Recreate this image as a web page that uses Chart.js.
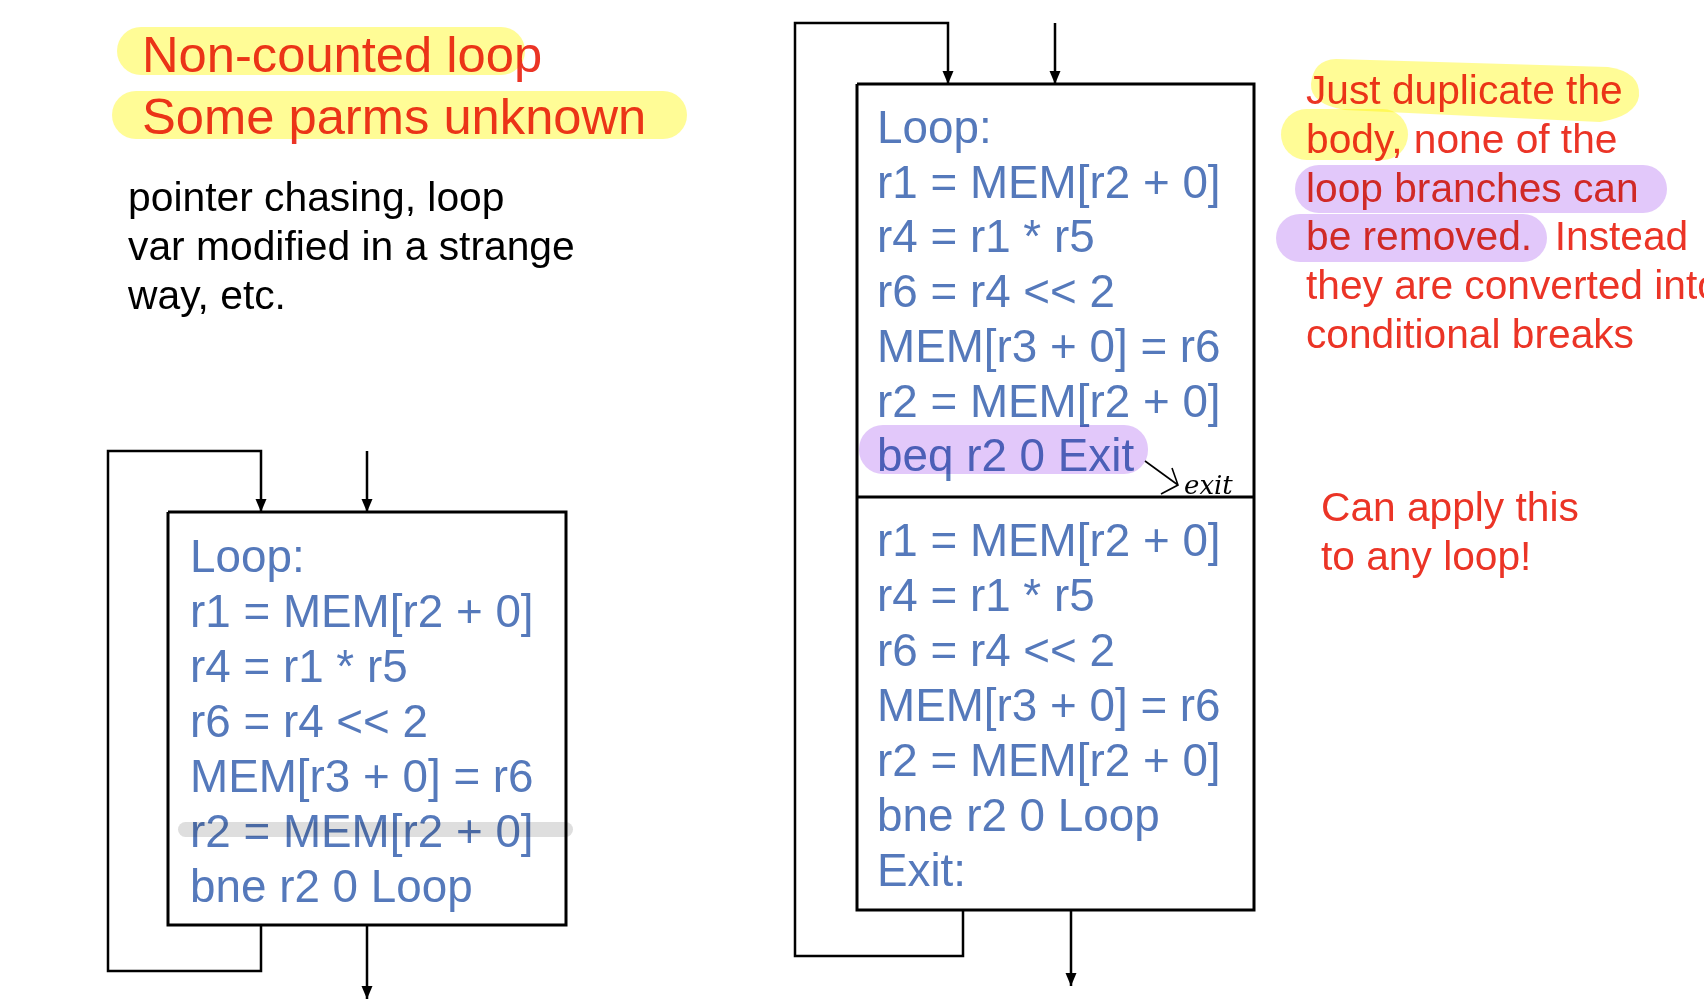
<!DOCTYPE html>
<html>
<head>
<meta charset="utf-8">
<title>Non-counted loop</title>
<script src="https://cdn.jsdelivr.net/npm/chart.js@4/dist/chart.umd.min.js"></script>
<style>
    html, body { margin: 0; padding: 0; background: #fff; }
    #slide { display: block; }
</style>
</head>
<body>
<canvas id="slide" width="1704" height="1000"></canvas>
<script>
// slide text
const titleLines = ['Non-counted loop', 'Some parms unknown'];
const noteLines = ['pointer chasing, loop', 'var modified in a strange', 'way, etc.'];
const loopBody = ['Loop:', 'r1 = MEM[r2 + 0]', 'r4 = r1 * r5', 'r6 = r4 << 2', 'MEM[r3 + 0] = r6', 'r2 = MEM[r2 + 0]', 'bne r2 0 Loop'];
const unrolledTop = ['Loop:', 'r1 = MEM[r2 + 0]', 'r4 = r1 * r5', 'r6 = r4 << 2', 'MEM[r3 + 0] = r6', 'r2 = MEM[r2 + 0]', 'beq r2 0 Exit'];
const unrolledBottom = ['r1 = MEM[r2 + 0]', 'r4 = r1 * r5', 'r6 = r4 << 2', 'MEM[r3 + 0] = r6', 'r2 = MEM[r2 + 0]', 'bne r2 0 Loop', 'Exit:'];
const explainLines = ['Just duplicate the', 'body, none of the', 'loop branches can', 'be removed.  Instead', 'they are converted into', 'conditional breaks'];
const applyLines = ['Can apply this', 'to any loop!'];
const exitMark = 'exit';

// layout, in slide units (1704 x 1000)
const layout = {
    title: { x: 142, y: 72, step: 62, size: 50.7 },
    note: { x: 128, y: 211, step: 49, size: 40.8 },
    loopBody: { x: 190, y: 572, step: 55, size: 45.8 },
    unrolledTop: { x: 877, y: 143, step: 54.7, size: 45.8 },
    unrolledBottom: { x: 877, y: 556, step: 55, size: 45.8 },
    explain: { x: 1306, y: 104, step: 48.8, size: 40.7 },
    apply: { x: 1321, y: 521, step: 49, size: 40.7 },
    leftBox: [168, 512, 566, 925],
    rightBox: [857, 84, 1254, 910],
    rightDivider: 497,
    leftLoop: [[261, 925], [261, 971], [108, 971], [108, 451], [261, 451], [261, 512]],
    leftEntry: [[367, 451], [367, 512]],
    leftExit: [[367, 925], [367, 999]],
    rightLoop: [[963, 910], [963, 956], [795, 956], [795, 23], [948, 23], [948, 84]],
    rightEntry: [[1055, 23], [1055, 84]],
    rightExit: [[1071, 910], [1071, 986]]
};

const RED = 'rgb(235, 52, 38)';
const BLUE = 'rgb(85, 121, 187)';
const YELLOW = 'rgb(255, 252, 150)';
const PURPLE = 'rgb(226, 200, 250)';
const FONT = '"Liberation Sans", Arial, Helvetica, sans-serif';

function boxPoints(b) {
    return [{x: b[0], y: b[1]}, {x: b[2], y: b[1]}, {x: b[2], y: b[3]}, {x: b[0], y: b[3]}, {x: b[0], y: b[1]}];
}

function pathPoints(p) {
    return p.map(function (pt) { return {x: pt[0], y: pt[1]}; });
}

function edge(points, width) {
    return {
        data: points,
        showLine: true,
        borderColor: '#000',
        borderWidth: width,
        pointRadius: 0,
        fill: false,
        tension: 0,
        borderJoinStyle: 'miter'
    };
}

const slidePlugin = {
    id: 'slide',
    beforeDraw(chart) {
        const ctx = chart.ctx;
        ctx.save();
        ctx.fillStyle = '#fff';
        ctx.fillRect(0, 0, chart.width, chart.height);
        ctx.restore();
    },
    afterDatasetsDraw(chart) {
        const ctx = chart.ctx;
        const sx = chart.scales.x, sy = chart.scales.y;
        const px = v => sx.getPixelForValue(v);
        const py = v => sy.getPixelForValue(v);

        function lines(list, spec, color) {
            ctx.fillStyle = color;
            ctx.font = spec.size + 'px ' + FONT;
            ctx.textBaseline = 'alphabetic';
            list.forEach(function (t, i) {
                ctx.fillText(t, px(spec.x), py(spec.y + i * spec.step));
            });
        }

        function arrowHead(pt) {
            ctx.beginPath();
            ctx.moveTo(px(pt[0]), py(pt[1]));
            ctx.lineTo(px(pt[0] - 5.5), py(pt[1] - 13));
            ctx.lineTo(px(pt[0] + 5.5), py(pt[1] - 13));
            ctx.closePath();
            ctx.fill();
        }

        function band(x0, y0, x1, y1, r, color) {
            ctx.fillStyle = color;
            ctx.beginPath();
            ctx.roundRect(px(x0), py(y0), px(x1) - px(x0), py(y1) - py(y0), r);
            ctx.fill();
        }

        ctx.save();
        lines(titleLines, layout.title, RED);
        lines(noteLines, layout.note, '#000');
        lines(loopBody, layout.loopBody, BLUE);
        lines(unrolledTop, layout.unrolledTop, BLUE);
        lines(unrolledBottom, layout.unrolledBottom, BLUE);
        lines(explainLines, layout.explain, RED);
        lines(applyLines, layout.apply, RED);

        // arrow heads
        ctx.fillStyle = '#000';
        [layout.leftLoop, layout.leftEntry, layout.leftExit,
         layout.rightLoop, layout.rightEntry, layout.rightExit].forEach(function (p) {
            arrowHead(p[p.length - 1]);
        });

        // hand drawn "exit" note
        ctx.strokeStyle = '#000';
        ctx.lineWidth = 1.6;
        ctx.beginPath();
        ctx.moveTo(px(1145), py(461));
        ctx.lineTo(px(1178), py(485));
        ctx.moveTo(px(1172), py(468));
        ctx.lineTo(px(1178), py(485));
        ctx.lineTo(px(1161), py(494));
        ctx.stroke();
        ctx.fillStyle = '#000';
        ctx.font = 'italic 26px "DejaVu Serif", serif';
        ctx.fillText(exitMark, px(1184), py(494));

        // marker highlights, multiplied over the text
        ctx.globalCompositeOperation = 'multiply';
        band(117, 27, 525, 75, 24, YELLOW);
        band(112, 91, 687, 139, 24, YELLOW);

        ctx.fillStyle = YELLOW;
        ctx.beginPath();
        ctx.moveTo(px(1336), py(59));
        ctx.lineTo(px(1608), py(67));
        ctx.quadraticCurveTo(px(1641), py(72), px(1639), py(96));
        ctx.quadraticCurveTo(px(1636), py(116), px(1600), py(122));
        ctx.lineTo(px(1345), py(110));
        ctx.quadraticCurveTo(px(1310), py(104), px(1311), py(84));
        ctx.quadraticCurveTo(px(1313), py(60), px(1336), py(59));
        ctx.fill();
        band(1281, 109, 1408, 160, 26, YELLOW);

        band(1295, 165, 1667, 213, 24, PURPLE);
        band(1276, 214, 1547, 262, 24, PURPLE);
        band(859, 425, 1148, 474, 24, PURPLE);
        band(178, 822, 573, 837, 7.5, 'rgb(222, 222, 222)');
        ctx.restore();
    }
};

const slideDatasets = [
    edge(boxPoints(layout.leftBox), 3),
    edge(pathPoints(layout.leftLoop), 2.5),
    edge(pathPoints(layout.leftEntry), 2.5),
    edge(pathPoints(layout.leftExit), 2.5),
    edge(boxPoints(layout.rightBox), 3),
    edge([{x: layout.rightBox[0], y: layout.rightDivider}, {x: layout.rightBox[2], y: layout.rightDivider}], 3),
    edge(pathPoints(layout.rightLoop), 2.5),
    edge(pathPoints(layout.rightEntry), 2.5),
    edge(pathPoints(layout.rightExit), 2.5)
];

new Chart(document.getElementById('slide').getContext('2d'), {
    type: 'scatter',
    data: { datasets: slideDatasets },
    options: {
        responsive: false,
        devicePixelRatio: 1,
        animation: false,
        layout: { padding: 0 },
        plugins: { legend: { display: false }, tooltip: { enabled: false } },
        scales: {
            x: { type: 'linear', min: 0, max: 1704, display: false },
            y: { type: 'linear', min: 0, max: 1000, reverse: true, display: false }
        }
    },
    plugins: [slidePlugin]
});
</script>
</body>
</html>
